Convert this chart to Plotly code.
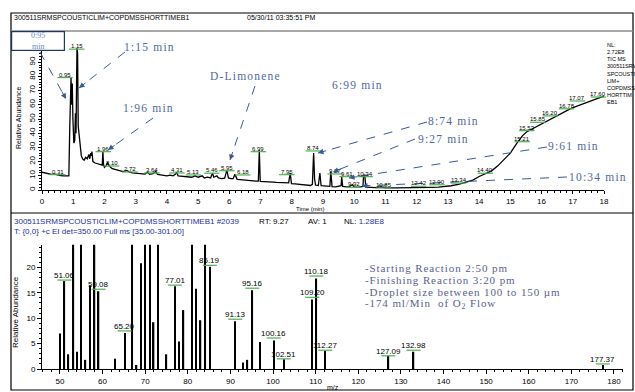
import plotly.graph_objects as go

W, H = 635, 392
SANS = "Liberation Sans, Arial, sans-serif"
SERIF = "Liberation Serif, Times New Roman, serif"
BLUE_TXT = "#4d6a9e"
BLUE_ARR = "#3a5a95"
GREEN = "#4cb050"

# ---------------- chromatogram (TIC) ----------------
rt_min = [0.00, 0.10, 0.20, 0.30, 0.40, 0.50, 0.60, 0.70, 0.80, 0.86,
          0.89, 0.91, 0.93, 0.95, 0.97, 0.99, 1.02, 1.05, 1.07, 1.09,
          1.12, 1.14, 1.16, 1.19, 1.22, 1.26, 1.30, 1.35, 1.40, 1.45,
          1.50, 1.53, 1.56, 1.58, 1.60, 1.63, 1.70, 1.80, 1.90, 1.93,
          1.95, 1.97, 2.00, 2.05, 2.10, 2.15, 2.25, 2.40, 2.50, 2.60,
          2.72, 2.80, 2.90, 3.00, 3.10, 3.20, 3.30, 3.38, 3.45, 3.55,
          3.64, 3.70, 3.80, 3.90, 4.00, 4.10, 4.20, 4.27, 4.31, 4.36,
          4.50, 4.60, 4.70, 4.80, 4.90, 5.00, 5.13, 5.20, 5.30, 5.40,
          5.46, 5.50, 5.60, 5.65, 5.75, 5.85, 5.92, 5.97, 6.05, 6.12,
          6.18, 6.25, 6.35, 6.45, 6.55, 6.65, 6.75, 6.85, 6.93, 6.96,
          6.99, 7.10, 7.20, 7.30, 7.40, 7.50, 7.60, 7.70, 7.80, 7.90,
          7.95, 7.99, 8.10, 8.20, 8.30, 8.40, 8.50, 8.60, 8.66, 8.70,
          8.73, 8.76, 8.85, 8.90, 8.94, 9.05, 9.15, 9.22, 9.25, 9.29,
          9.40, 9.50, 9.58, 9.60, 9.63, 9.75, 9.85, 9.94, 10.00, 10.15,
          10.28, 10.30, 10.34, 10.37, 10.50, 10.70, 10.85, 11.00, 11.30, 11.60,
          11.90, 12.20, 12.42, 12.70, 12.92, 13.10, 13.34, 13.60, 13.80, 14.00,
          14.20, 14.40, 14.60, 14.80, 15.00, 15.21, 15.40, 15.53, 15.70, 15.85,
          16.00, 16.20, 16.40, 16.60, 16.75, 16.90, 17.07, 17.30, 17.50, 17.60,
          17.80, 18.00]
rel_abund = [12.5, 12.0, 11.5, 11.0, 11.2, 10.5, 10.2, 10.0, 9.8, 10.0,
             45, 78, 79, 60, 75, 50, 33, 35, 54, 40,
             100, 96, 45, 38, 30, 24, 22, 21, 23, 22,
             25, 22, 26, 24, 27, 20, 19, 18.5, 18, 17.5,
             27.5, 18, 16, 17, 19.5, 17, 15, 14, 13.5, 13,
             13.8, 12.5, 12, 11.8, 11.5, 11, 11.2, 12.5, 11, 11.5,
             13, 11, 10.5, 10.2, 10, 10.5, 10, 11, 12.5, 10,
             9.8, 9.5, 9.2, 9, 10, 9, 10, 8.5, 9, 8.5,
             12, 9, 10, 8.5, 8, 8.3, 14, 8.5, 8, 8,
             11, 7.5, 7.3, 7, 7, 6.5, 6.5, 6.2, 6.3, 28,
             6, 6, 5.8, 5.8, 5.5, 5.3, 5.2, 5, 4.8, 5,
             12, 4.5, 4.3, 4, 3.8, 3.5, 3.3, 3.2, 4, 26,
             8, 3.5, 3.2, 12, 3, 2.8, 2.5, 2.6, 13, 2.4,
             2.2, 2.5, 3, 9.4, 2.5, 2.2, 2.3, 3.8, 2, 2,
             2.5, 10.5, 10.5, 2, 1.8, 1.7, 2.2, 1.6, 1.5, 1.5,
             1.4, 1.6, 1.8, 2, 2.5, 3, 4, 5.5, 7, 9.5,
             11.5, 13.5, 17, 21.5, 26, 33, 38.5, 41, 43, 44.6,
             46.5, 49, 51.5, 54, 55.5, 57, 58.5, 60.5, 62, 63,
             64.5, 66]

peak_text = ["0.31", "0.95", "1.15", "1.96", "2.10", "2.72", "3.64", "4.31", "5.13", "5.46",
             "5.95", "6.18", "6.99", "7.95", "8.74", "9.27", "9.61", "9.92", "10.34", "10.85",
             "12.42", "12.90", "13.34", "14.40", "15.21", "15.53", "15.85", "16.20", "16.78", "17.07",
             "17.60"]
peak_lbl_t = [0.51, 0.74, 1.11, 1.96, 2.23, 2.82, 3.52, 4.32, 4.85, 5.44,
              5.92, 6.43, 6.93, 7.84, 8.69, 9.39, 9.77, 9.98, 10.35, 10.94,
              12.06, 12.65, 13.34, 14.20, 15.38, 15.53, 15.88, 16.28, 16.80, 17.15,
              17.82]
peak_lbl_v = [10.8, 79.2, 99.2, 27.0, 16.9, 12.7, 12.0, 12.0, 10.6, 11.8,
              13.6, 10.6, 27.0, 10.8, 27.5, 11.3, 9.4, 1.9, 9.4, 1.4,
              2.6, 3.7, 4.9, 11.8, 34.0, 41.8, 47.7, 52.2, 57.2, 62.7,
              65.5]

# ---------------- mass spectrum ----------------
mz = [50, 51.06, 52, 53.18, 54, 55, 56, 57, 58.13, 59.08,
      63, 65.20, 67, 68, 69, 70, 71.14, 72, 73, 75,
      77.01, 78, 79, 81, 82, 83, 84.13, 85.19, 91.13, 93,
      94, 95.16, 97, 100.16, 102.51, 109.20, 110.18, 112.27, 127.09, 132.98,
      177.37]
intensity = [7.0, 17.3, 2.9, 24.5, 3.4, 24.5, 1.8, 16.5, 24.5, 15.3,
             2.0, 7.1, 24.5, 0.8, 20.8, 24.5, 24.5, 9.2, 24.5, 2.9,
             16.3, 5.4, 11.6, 24.5, 15.8, 9.6, 24.5, 20.1, 9.4, 1.3,
             1.8, 15.5, 5.3, 5.6, 1.9, 13.7, 17.8, 3.6, 2.6, 3.4,
             0.8]
mz_text = ["51.06", "53.18", "58.13", "59.08", "65.20", "71.14", "77.01", "84.13", "85.19",
           "91.13", "95.16", "100.16", "102.51", "109.20", "110.18", "112.27", "127.09",
           "132.98", "177.37"]
mz_lbl_v = [17.5, 24.6, 24.6, 15.7, 7.5, 24.6, 16.5, 24.6, 20.4,
            9.8, 15.9, 6.1, 2.0, 14.1, 18.3, 3.7, 2.6,
            3.7, 1.0]

notes = ["-Starting Reaction 2:50 pm",
         "-Finishing Reaction 3:20 pm",
         "-Droplet size between 100 to 150 \u00b5m",
         "-174 ml/Min  of O<sub>2</sub> Flow"]


def px(x):
    return x / W


def py(y):
    return 1 - y / H


def spaced(s, sp):
    return "<span style='letter-spacing:%spx'>%s</span>" % (sp, s)


def ptext(s, x, y, size, family=SANS, color="black", xa="center", ya="middle", **kw):
    d = dict(x=px(x), y=py(y), xref="paper", yref="paper", xanchor=xa, yanchor=ya,
             text=s, showarrow=False, font=dict(size=size, family=family, color=color))
    d.update(kw)
    return d


fig = go.Figure()
fig.add_trace(go.Scatter(x=rt_min, y=rel_abund, mode="lines",
                         line=dict(color="black", width=1.3),
                         xaxis="x", yaxis="y", hoverinfo="skip", showlegend=False))
fig.add_trace(go.Scatter(x=peak_lbl_t, y=peak_lbl_v, mode="markers",
                         marker=dict(symbol="line-ew", size=11, color=GREEN,
                                     line=dict(color=GREEN, width=1.2)),
                         cliponaxis=False, xaxis="x", yaxis="y",
                         hoverinfo="skip", showlegend=False))
fig.add_trace(go.Bar(x=mz, y=intensity, width=0.32,
                     marker=dict(color="black", line=dict(width=0)),
                     xaxis="x2", yaxis="y2", hoverinfo="skip", showlegend=False))
fig.add_trace(go.Scatter(x=[float(t) for t in mz_text], y=mz_lbl_v, mode="markers",
                         marker=dict(symbol="line-ew", size=10, color=GREEN,
                                     line=dict(color=GREEN, width=1.2)),
                         cliponaxis=False, xaxis="x2", yaxis="y2",
                         hoverinfo="skip", showlegend=False))

ann = []
for t, v, s in zip(peak_lbl_t, peak_lbl_v, peak_text):
    ann.append(dict(x=t, y=v, xref="x", yref="y", text=s, showarrow=False,
                    xanchor="center", yanchor="bottom", yshift=-2,
                    font=dict(size=6, family=SANS, color="black")))
for s, v in zip(mz_text, mz_lbl_v):
    ann.append(dict(x=float(s), y=v, xref="x2", yref="y2", text=s, showarrow=False,
                    xanchor="center", yanchor="bottom", yshift=-2,
                    font=dict(size=8, family=SANS, color="black")))

# axis titles
ann.append(ptext("Time (min)", 310, 209, 6))
ann.append(ptext("m/z", 333, 387, 7))
ann.append(ptext("Relative Abundance", 19, 118, 7, textangle=-90))
ann.append(ptext("Relative Abundance", 15, 312, 8, textangle=-90))

# headers
ann.append(ptext("300511SRMSPCOUSTICLIM+COPDMSSHORTTIMEB1", 12, 17, 7, xa="left"))
ann.append(ptext("05/30/11 03:35:51 PM", 245, 17, 7, xa="left"))
ann.append(ptext("NL:<br>2.72E8<br>TIC MS<br>300511SRM<br>SPCOUSTIC<br>LIM+<br>COPDMSS<br>HORTTIM<br>EB1",
                 605, 40, 5.5, xa="left", ya="top", align="left"))
hdr_parts = [("300511SRMSPCOUSTICLIM+COPDMSSHORTTIMEB1 #2039", 12, "#1d2f9a"),
             ("RT: 9.27", 257, "black"), ("AV: 1", 306, "black"),
             ("NL: <span style='color:#1d2f9a'>1.28E8</span>", 342, "black")]
for s, x, c in hdr_parts:
    ann.append(ptext(s, x, 221, 8, color=c, xa="left"))
ann.append(ptext("T: {0,0} +c EI det=350.00 Full ms [35.00-301.00]", 12, 231, 8,
                 color="#1d2f9a", xa="left"))

# blue call-out texts
callouts = [("1:15 min", 149, 47), ("1:96 min", 148, 108), ("D-Limonene", 245, 76),
            ("6:99 min", 357, 85), ("8:74 min", 453, 121), ("9:27 min", 443, 139),
            ("9:61 min", 573, 146), ("10:34 min", 598, 177)]
for s, x, y in callouts:
    ann.append(ptext(spaced(s, 1.2), x, y, 11.5, family=SERIF, color=BLUE_TXT))
ann.append(ptext("0:95<br>min", 37.5, 40.5, 8, family=SERIF, color="#6a88c0",
                 width=52, height=18, bordercolor="#1f3566", borderwidth=1.2,
                 borderpad=0, bgcolor="white"))

# dashed arrows (tail -> tip, pixel coords of the picture)
arrows = [((40, 52), (66, 99)), ((125, 52), (79, 88)), ((153, 118), (108, 150)),
          ((255, 86), (230, 160)), ((427, 122), (318, 153)), ((415, 139), (333, 172)),
          ((547, 147), (349, 178)), ((567, 177), (362, 186))]
shapes = []
for (x0, y0), (x1, y1) in arrows:
    shapes.append(dict(type="line", xref="paper", yref="paper", x0=px(x0), y0=py(y0),
                       x1=px(x1), y1=py(y1), line=dict(color=BLUE_ARR, width=1, dash="dash")))
    dx, dy = x0 - x1, y0 - y1
    n = (dx * dx + dy * dy) ** 0.5
    ann.append(dict(x=px(x1), y=py(y1), xref="paper", yref="paper", text="", showarrow=True,
                    ax=dx / n * 10, ay=dy / n * 10, arrowhead=2, arrowsize=1.1, arrowwidth=1,
                    arrowcolor=BLUE_ARR))

for i, s in enumerate(notes):
    ann.append(ptext(spaced(s, 0.9), 363, 268 + 12 * i, 11, family=SERIF, color="#59618f", xa="left"))

# frames
shapes.append(dict(type="rect", xref="paper", yref="paper", x0=px(11), y0=py(390), x1=px(633),
                   y1=py(13), line=dict(color="black", width=1.2)))
shapes.append(dict(type="line", xref="paper", yref="paper", x0=px(11), y0=py(31), x1=px(633),
                   y1=py(31), line=dict(color="#8a8a8a", width=1.5)))
shapes.append(dict(type="line", xref="paper", yref="paper", x0=px(11), y0=py(213), x1=px(633),
                   y1=py(213), line=dict(color="black", width=1)))

axis_common = dict(showline=True, linecolor="black", linewidth=1, ticks="outside",
                   tickcolor="black", tickwidth=1, showgrid=False, zeroline=False,
                   automargin=False,
                   tickfont=dict(size=8, family=SANS, color="black"))

fig.update_layout(
    template="none",
    width=W, height=H, margin=dict(l=0, r=0, t=0, b=0, pad=0), autosize=False,
    paper_bgcolor="white", plot_bgcolor="white", showlegend=False,
    font=dict(family=SANS, color="black"),
    xaxis=dict(domain=[px(42), px(604)], range=[0, 18], anchor="y", tick0=0, dtick=1, ticklen=3,
               minor=dict(dtick=0.2, ticklen=2, ticks="outside", tickcolor="black"),
               **axis_common),
    yaxis=dict(domain=[py(190), py(48)], range=[0, 100], anchor="x",
               tickvals=[0, 10, 20, 30, 40, 50, 60, 70, 80, 90], tickangle=-90, ticklen=3,
               minor=dict(dtick=2, ticklen=2, ticks="outside", tickcolor="black"),
               **axis_common),
    xaxis2=dict(domain=[px(42), px(622.5)], range=[45.8, 182], anchor="y2", tick0=0, dtick=10, ticklen=4,
                minor=dict(dtick=2, ticklen=2, ticks="outside", tickcolor="black"),
                **axis_common),
    yaxis2=dict(domain=[py(369), py(244.5)], range=[0, 24.5], anchor="x2", tick0=0, dtick=5, ticklen=4,
                minor=dict(dtick=1, ticklen=2, ticks="outside", tickcolor="black"),
                **axis_common),
    annotations=ann, shapes=shapes,
)

fig.write_html("out.html", config={"displayModeBar": False},
               post_script="document.body.style.margin='0';")
